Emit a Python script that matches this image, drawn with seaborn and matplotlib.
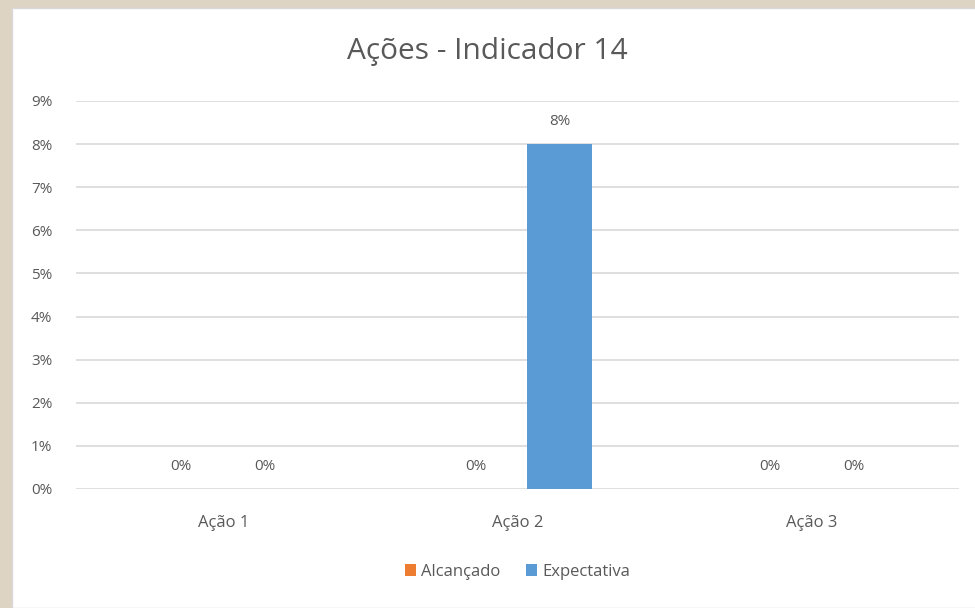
import pandas as pd
import seaborn as sns
import matplotlib.pyplot as plt
from matplotlib.patches import Rectangle
from matplotlib.ticker import FuncFormatter

acoes = ["Ação 1", "Ação 2", "Ação 3"]
alcancado = [0.0, 0.0, 0.0]
expectativa = [0.0, 0.08, 0.0]
series = ["Alcançado", "Expectativa"]
colors = ["#ED7D31", "#5B9BD5"]

data = pd.DataFrame({
    "Ação": acoes * 2,
    "Série": [series[0]] * 3 + [series[1]] * 3,
    "Valor": alcancado + expectativa,
})

sns.set_style("white")
plt.rcParams['font.family'] = ['Open Sans', 'DejaVu Sans']
grey = "#595959"

fig = plt.figure(figsize=(9.75, 6.08), dpi=100)
fig.patch.set_facecolor("#ddd4c4")
# white chart panel over the textured background
fig.patches.append(Rectangle((12 / 975, 0), 1, 1 - 8 / 608, transform=fig.transFigure,
                             facecolor="white", edgecolor="#d9d9d9", linewidth=1, zorder=-1))

ax = fig.add_axes([76 / 975, 1 - 489 / 608, 883 / 975, 388 / 608])
ax.set_facecolor("none")

sns.barplot(data=data, x="Ação", y="Valor", hue="Série", palette=colors,
            saturation=1, linewidth=0, width=0.572, gap=0.227, ax=ax, zorder=3)

for cont in ax.containers:
    ax.bar_label(cont, labels=[f"{v * 100:.0f}%" for v in cont.datavalues],
                 padding=11, fontsize=11, color=grey)

ax.set_ylim(0, 0.09)
ax.set_yticks([i / 100 for i in range(10)])
ax.yaxis.set_major_formatter(FuncFormatter(lambda v, _: f"{v * 100:.0f}%"))
ax.grid(axis="y", color="#d9d9d9", linewidth=1.2, zorder=0)
ax.set_axisbelow(True)
for s in ax.spines.values():
    s.set_visible(False)
ax.tick_params(axis="y", length=0, pad=17, labelsize=11, labelcolor=grey)
ax.tick_params(axis="x", length=0, pad=19, labelsize=12, labelcolor=grey)
ax.set_xlabel("")
ax.set_ylabel("")

ax.legend(loc="upper center", bbox_to_anchor=(0.5, -0.155), ncol=2, frameon=False,
          fontsize=12, labelcolor=grey, handlelength=0.7, handleheight=0.7,
          handletextpad=0.3, columnspacing=1.5)

fig.text(0.5, 1 - 52 / 608, "Ações - Indicador 14", ha="center", va="center",
         fontsize=21.5, color=grey)

plt.savefig("out.png", dpi=100)
